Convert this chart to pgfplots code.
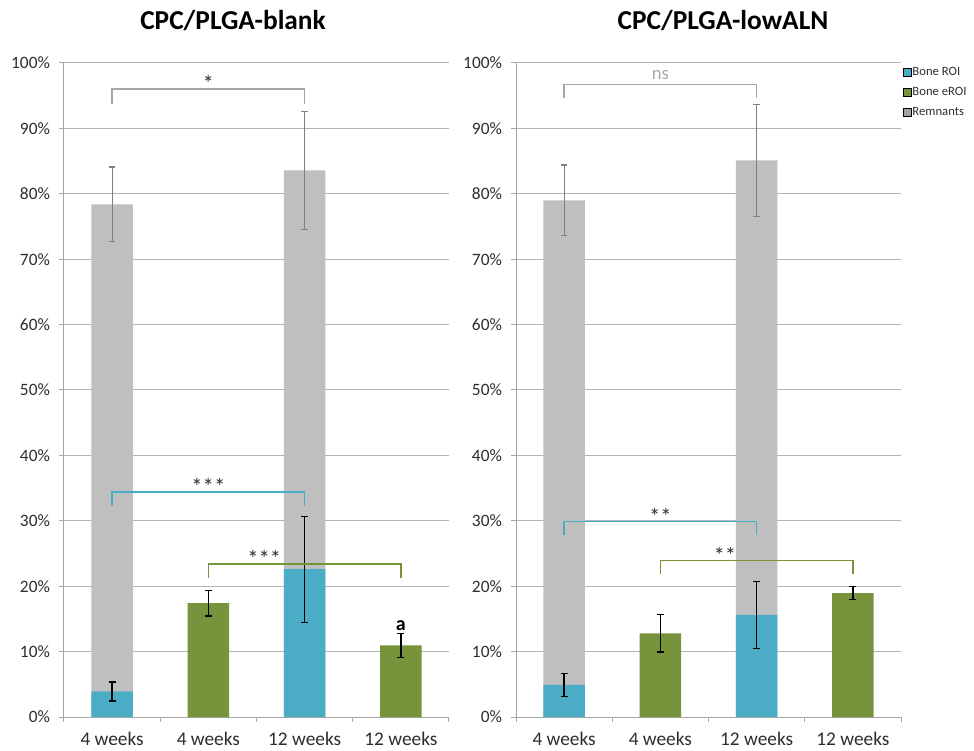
\documentclass[border=0pt]{standalone}
\usepackage{fontspec}
\setmainfont{Carlito}
\usepackage{pgfplots}
\pgfplotsset{compat=1.18}
\definecolor{roi}{RGB}{75,172,198}
\definecolor{eroi}{RGB}{119,147,60}
\definecolor{rem}{RGB}{191,191,191}
\definecolor{remerr}{RGB}{128,128,128}
\definecolor{gridc}{RGB}{180,180,180}
\definecolor{axisc}{RGB}{165,165,165}
\definecolor{brk}{RGB}{166,166,166}
\definecolor{txt}{RGB}{45,45,45}

\pgfplotsset{panel/.style={
  scale only axis, width=288.75pt, height=490.5pt,
  anchor=south west, clip=false,
  xmin=-0.5, xmax=3.5, ymin=0, ymax=100,
  axis x line=bottom, axis y line=left,
  axis line style={draw=axisc, line width=0.75pt, -},
  ytick={0,10,...,100},
  yticklabels={0\%,10\%,20\%,30\%,40\%,50\%,60\%,70\%,80\%,90\%,100\%},
  ymajorgrids, grid style={draw=gridc, line width=0.75pt},
  tick align=outside, major tick length=3.5pt,
  tick style={draw=axisc, line width=0.75pt},
  xtick={-0.5,0.5,1.5,2.5,3.5}, xticklabels={},
  extra x ticks={0,1,2,3},
  extra x tick labels={4 weeks,4 weeks,12 weeks,12 weeks},
  extra x tick style={tick style={draw=none}, grid=none},
  yticklabel style={font=\fontsize{13}{15}\selectfont, text=txt, xshift=-3.5pt},
  xticklabel style={font=\fontsize{14.5}{17}\selectfont, text=txt, yshift=-4.3pt},
  legend image code/.code={\fill[#1] (0pt,-3pt) rectangle (6pt,3pt);},
},
remplot/.style={ybar, bar width=0.43, bar shift=0pt, fill=rem, draw=none, forget plot,
  error bars/.cd, y dir=both, y explicit,
  error bar style={draw=remerr, line width=0.8pt},
  error mark options={draw=remerr, line width=0.8pt, mark size=2.5pt, rotate=90}},
roiplot/.style={ybar, bar width=0.43, bar shift=0pt, fill=#1, draw=none, forget plot,
  error bars/.cd, y dir=both, y explicit,
  error bar style={draw=black, line width=0.95pt},
  error mark options={draw=black, line width=0.95pt, mark size=2.6pt, rotate=90}},
}

\begin{document}
\begin{tikzpicture}
\useasboundingbox (0,0) rectangle (730.5pt,562.5pt);

\begin{axis}[panel, at={(48pt,24.75pt)}]
\addplot[remplot] table[x=x,y=y,y error=e]{
x y e
0 78.4 5.7
2 83.6 9.0
};
\addplot[roiplot=roi] table[x=x,y=y,y error=e]{
x y e
0 3.9 1.45
2 22.6 8.1
};
\addplot[roiplot=eroi] table[x=x,y=y,y error=e]{
x y e
1 17.4 1.95
3 10.95 1.8
};
\draw[brk, line width=1.1pt] (axis cs:0,93.8) |- (axis cs:1,96.0) -| (axis cs:2,93.8);
\node[anchor=base, font=\fontsize{17}{20}\selectfont, text=txt] at (axis cs:1,95.6) {*};
\draw[roi, line width=1.1pt] (axis cs:0,32.3) |- (axis cs:1,34.4) -| (axis cs:2,32.3);
\node[anchor=base, font=\fontsize{17}{20}\selectfont, text=txt] at (axis cs:1,34.0) {***};
\draw[eroi, line width=1.1pt] (axis cs:1,21.3) |- (axis cs:2,23.4) -| (axis cs:3,21.3);
\node[anchor=base, font=\fontsize{17}{20}\selectfont, text=txt] at (axis cs:1.58,23.0) {***};
\node[anchor=base, font=\bfseries\fontsize{15}{17}\selectfont, text=black] at (axis cs:3,13.3) {a};
\end{axis}

\begin{axis}[panel, at={(387pt,24.75pt)},
  legend style={at={(rel axis cs:1,1)}, anchor=north west, draw=none, fill=none,
    xshift=1pt, yshift=-1pt, inner sep=0pt,
    font=\fontsize{9.5}{11}\selectfont, text=txt,
    nodes={inner sep=1pt, text height=7pt, text depth=2pt},
    row sep=4pt},
  legend cell align=left]
\addplot[remplot] table[x=x,y=y,y error=e]{
x y e
0 79.0 5.4
2 85.1 8.6
};
\addplot[roiplot=roi] table[x=x,y=y,y error=e]{
x y e
0 4.9 1.8
2 15.6 5.1
};
\addplot[roiplot=eroi] table[x=x,y=y,y error=e]{
x y e
1 12.8 2.85
3 18.95 1.0
};
\addlegendimage{fill=roi}\addlegendentry{Bone ROI}
\addlegendimage{fill=eroi}\addlegendentry{Bone eROI}
\addlegendimage{fill=rem!85!black}\addlegendentry{Remnants}
\draw[brk, line width=1.1pt] (axis cs:0,94.7) |- (axis cs:1,96.7) -| (axis cs:2,94.7);
\node[anchor=base, font=\fontsize{14}{16}\selectfont, text=brk] at (axis cs:1,97.5) {ns};
\draw[roi, line width=1.1pt] (axis cs:0,27.8) |- (axis cs:1,29.9) -| (axis cs:2,27.8);
\node[anchor=base, font=\fontsize{17}{20}\selectfont, text=txt] at (axis cs:1,29.5) {**};
\draw[eroi, line width=1.1pt] (axis cs:1,21.9) |- (axis cs:2,23.9) -| (axis cs:3,21.9);
\node[anchor=base, font=\fontsize{17}{20}\selectfont, text=txt] at (axis cs:1.67,23.5) {**};
\end{axis}

\node[anchor=base, font=\bfseries\fontsize{20.5}{23}\selectfont] at (174.75pt,540pt) {CPC/PLGA-blank};
\node[anchor=base, font=\bfseries\fontsize{20.5}{23}\selectfont] at (542.25pt,540pt) {CPC/PLGA-lowALN};
\end{tikzpicture}
\end{document}
